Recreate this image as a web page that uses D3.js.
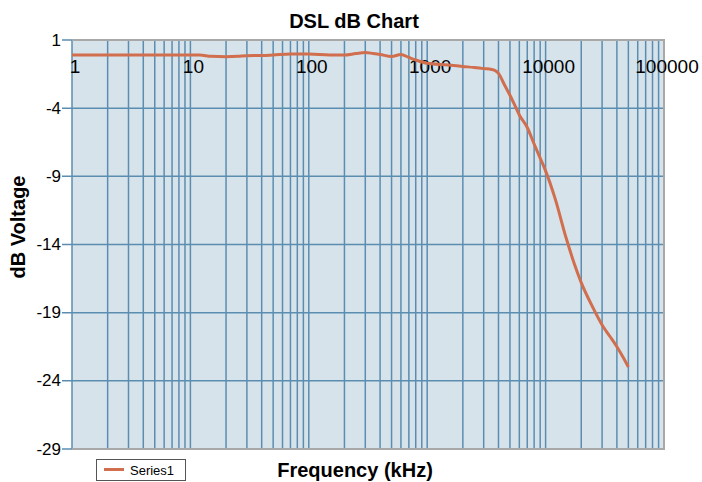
<!DOCTYPE html>
<html>
<head>
<meta charset="utf-8">
<script src="https://cdn.jsdelivr.net/npm/d3@7"></script>
<style>
  body { margin: 0; background: #fff; }
  text { font-family: "Liberation Sans", Arial, sans-serif; fill: #000; }
</style>
</head>
<body>
<script>
const frequencies = [1, 2, 5, 10, 12, 15, 20, 25, 30, 40, 50, 70, 100, 150, 200, 250, 300, 350, 400, 500, 600, 700, 800, 1000,
                     1500, 2000, 2500, 3000, 3500, 3800, 4000, 4500, 5000, 5500, 6000, 7000, 8000, 9000, 10000, 12000,
                     15000, 17500, 20000, 25000, 30000, 35000, 40000, 45000, 50000];

const dbValues = [-0.1, -0.1, -0.1, -0.1, -0.1, -0.2, -0.22, -0.2, -0.15, -0.14, -0.1, -0.03, -0.03, -0.1, -0.1, 0.01, 0.08, 0.01, -0.06, -0.21, -0.06, -0.28, -0.47, -0.71,
                  -0.83, -0.94, -1.02, -1.1, -1.16, -1.27, -1.45, -2.3, -3.05, -3.8, -4.5, -5.42, -6.63, -7.66, -8.6, -10.6,
                  -13.6, -15.43, -16.8, -18.6, -19.9, -20.75, -21.5, -22.25, -22.98];

const xTicks = [1, 10, 100, 1000, 10000, 100000],
      yTicks = [1, -4, -9, -14, -19, -24, -29];

const series = frequencies.map((f, i) => ({ f: f, db: dbValues[i] }));

const width = 702,
      height = 482,
      plot = { left: 72, right: 664, top: 40, bottom: 449 };

const xScale = d3.scaleLog()
                 .domain([1, 100000])
                 .range([plot.left, plot.right]),

      yScale = d3.scaleLinear()
                 .domain([-29, 1])
                 .range([plot.bottom, plot.top]);

const svg = d3.select('body')
              .append('svg')
              .attr('width', width)
              .attr('height', height);

// plot background
svg.append('rect')
   .attr('x', plot.left)
   .attr('y', plot.top)
   .attr('width', plot.right - plot.left)
   .attr('height', plot.bottom - plot.top)
   .attr('fill', '#d7e3eb');

// minor + major vertical grid lines (1..9 per decade)
const vLines = [];
for (let p = 0; p < 5; p++) {
  for (let k = 1; k < 10; k++) vLines.push(k * Math.pow(10, p));
}

svg.append('g')
   .selectAll('line')
   .data(vLines)
   .enter()
   .append('line')
   .attr('x1', d => xScale(d))
   .attr('x2', d => xScale(d))
   .attr('y1', plot.top)
   .attr('y2', plot.bottom)
   .attr('stroke', '#5b8db1')
   .attr('stroke-width', 1.5);

// horizontal grid lines, extended left as tick marks
svg.append('g')
   .selectAll('line')
   .data(yTicks)
   .enter()
   .append('line')
   .attr('x1', plot.left - 10)
   .attr('x2', plot.right)
   .attr('y1', d => yScale(d))
   .attr('y2', d => yScale(d))
   .attr('stroke', '#5b8db1')
   .attr('stroke-width', 1.5);

// frame
svg.append('path')
   .attr('d', 'M' + plot.left + ',' + plot.top + 'H' + plot.right + 'V' + plot.bottom + 'H' + plot.left)
   .attr('fill', 'none')
   .attr('stroke', '#a8a8a8')
   .attr('stroke-width', 2);

// y tick labels
svg.append('g')
   .selectAll('text')
   .data(yTicks)
   .enter()
   .append('text')
   .attr('x', plot.left - 11)
   .attr('y', d => yScale(d))
   .attr('dy', '0.33em')
   .style('text-anchor', 'end')
   .style('font-size', '17px')
   .text(d => d);

// x tick labels sit inside the plot, just under the top line
svg.append('g')
   .selectAll('text')
   .data(xTicks)
   .enter()
   .append('text')
   .attr('x', d => xScale(d) + 3)
   .attr('y', 73)
   .style('text-anchor', 'middle')
   .style('font-size', '19px')
   .text(d => d);

// data line
const line = d3.line()
               .curve(d3.curveMonotoneX)
               .x(d => xScale(d.f))
               .y(d => yScale(d.db));

svg.append('path')
   .datum(series)
   .attr('d', line)
   .attr('fill', 'none')
   .attr('stroke', '#d06e4e')
   .attr('stroke-width', 3)
   .attr('stroke-linejoin', 'round');

// titles
svg.append('text')
   .attr('x', 354)
   .attr('y', 28)
   .style('text-anchor', 'middle')
   .style('font-size', '20px')
   .style('font-weight', 'bold')
   .text('DSL dB Chart');

svg.append('text')
   .attr('transform', 'translate(25, 227) rotate(-90)')
   .style('text-anchor', 'middle')
   .style('font-size', '20px')
   .style('font-weight', 'bold')
   .text('dB Voltage');

svg.append('text')
   .attr('x', 355)
   .attr('y', 477)
   .style('text-anchor', 'middle')
   .style('font-size', '20px')
   .style('font-weight', 'bold')
   .text('Frequency (kHz)');

// legend
const legend = svg.append('g')
                  .attr('transform', 'translate(96, 459)');

legend.append('rect')
      .attr('x', 0.5)
      .attr('y', 0.5)
      .attr('width', 89)
      .attr('height', 21)
      .attr('fill', '#fff')
      .attr('stroke', '#555');

legend.append('line')
      .attr('x1', 8)
      .attr('x2', 28)
      .attr('y1', 10.5)
      .attr('y2', 10.5)
      .attr('stroke', '#d06e4e')
      .attr('stroke-width', 3);

legend.append('text')
      .attr('x', 34)
      .attr('y', 15.5)
      .style('font-size', '13px')
      .text('Series1');
</script>
</body>
</html>
